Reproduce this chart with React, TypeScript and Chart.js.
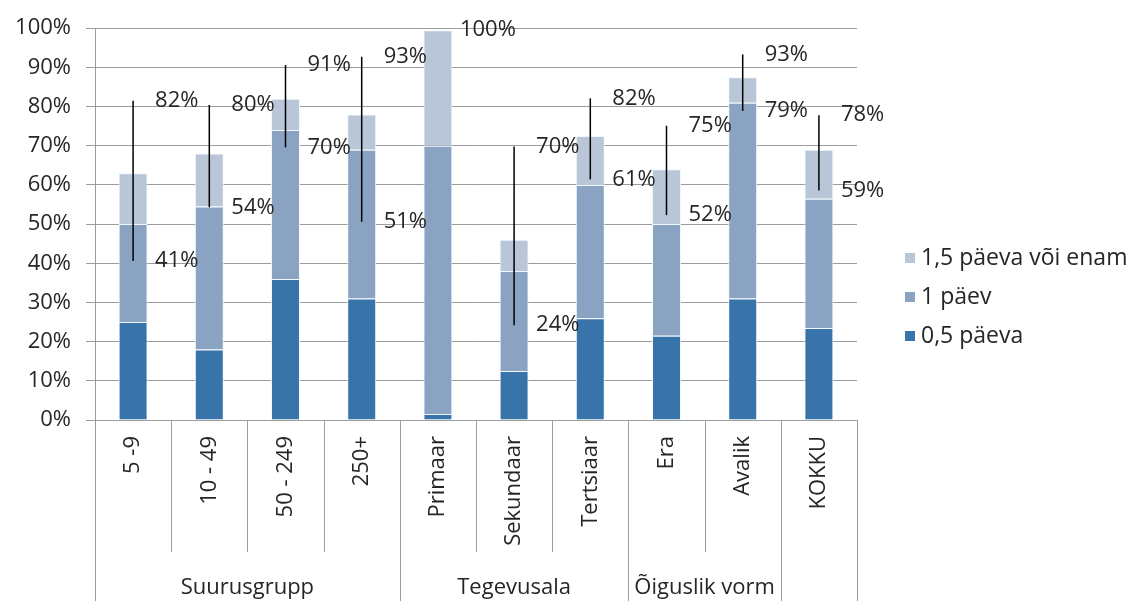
import React, { useEffect, useRef } from "react";
import { Chart, registerables } from "chart.js";

Chart.register(...registerables);

const categories = ["5 -9", "10 - 49", "50 - 249", "250+", "Primaar", "Sekundaar", "Tertsiaar", "Era", "Avalik", "KOKKU"];
const groups = [
  { label: "Suurusgrupp", start: 0, end: 4 },
  { label: "Tegevusala", start: 4, end: 7 },
  { label: "Õiguslik vorm", start: 7, end: 9 },
  { label: "", start: 9, end: 10 },
];
const halfDay = [25, 18, 36, 31, 1.5, 12.5, 26, 21.5, 31, 23.5];
const oneDay = [25, 36.5, 38, 38, 68.5, 25.5, 34, 28.5, 50, 33];
const oneHalfDay = [13, 13.5, 8, 9, 29.5, 8, 12.5, 14, 6.5, 12.5];
const errLow: (number | null)[] = [40.6, 54.3, 69.6, 50.6, null, 24.2, 61.4, 52.3, 78.9, 58.6];
const errHigh: (number | null)[] = [81.5, 80.4, 90.6, 92.7, 99.6, 69.8, 82.1, 75.1, 93.3, 77.8];
const seriesLabels = ["0,5 päeva", "1 päev", "1,5 päeva või enam"];
const seriesColors = ["#3873A9", "#8BA3C2", "#B9C6D7"];

const FONT = "'Open Sans', sans-serif";
const TEXT = "#262626";
const GRID = "#9c9c9c";

const overlayPlugin = {
  id: "overlay",
  afterDatasetsDraw(chart: any) {
    const ctx = chart.ctx;
    const x = chart.scales.x;
    const y = chart.scales.y;
    const area = chart.chartArea;
    ctx.save();
    // error bars + labels
    ctx.font = `22px ${FONT}`;
    ctx.fillStyle = TEXT;
    ctx.textAlign = "left";
    ctx.textBaseline = "middle";
    for (let i = 0; i < categories.length; i++) {
      const px = x.getPixelForValue(i);
      const lo = errLow[i];
      const hi = errHigh[i];
      if (lo != null && hi != null) {
        ctx.strokeStyle = "#000";
        ctx.lineWidth = 1.5;
        ctx.beginPath();
        ctx.moveTo(px, y.getPixelForValue(hi));
        ctx.lineTo(px, y.getPixelForValue(lo));
        ctx.stroke();
      }
      if (hi != null) ctx.fillText(Math.round(hi) + "%", px + 22, y.getPixelForValue(hi));
      if (lo != null) ctx.fillText(Math.round(lo) + "%", px + 22, y.getPixelForValue(lo));
    }
    // multi-level x axis
    const n = categories.length;
    const w = (area.right - area.left) / n;
    const groupEdges = new Set<number>();
    groups.forEach((g) => { groupEdges.add(g.start); groupEdges.add(g.end); });
    ctx.strokeStyle = GRID;
    ctx.lineWidth = 1;
    for (let i = 0; i <= n; i++) {
      const lx = Math.round(area.left + i * w) + 0.5;
      ctx.beginPath();
      ctx.moveTo(lx, area.bottom);
      ctx.lineTo(lx, groupEdges.has(i) ? chart.height : area.bottom + 132);
      ctx.stroke();
    }
    ctx.fillStyle = TEXT;
    ctx.font = `22px ${FONT}`;
    for (let i = 0; i < n; i++) {
      const cx = x.getPixelForValue(i);
      ctx.save();
      ctx.translate(cx, area.bottom + 16);
      ctx.rotate(-Math.PI / 2);
      ctx.textAlign = "right";
      ctx.textBaseline = "middle";
      ctx.fillText(categories[i], 0, 0);
      ctx.restore();
    }
    ctx.textAlign = "center";
    ctx.textBaseline = "middle";
    groups.forEach((g) => {
      if (!g.label) return;
      const gx = area.left + ((g.start + g.end) / 2) * w;
      ctx.fillText(g.label, gx, area.bottom + 168);
    });
    // legend
    const ds = chart.data.datasets;
    ctx.textAlign = "left";
    ctx.font = `23px ${FONT}`;
    for (let k = 0; k < ds.length; k++) {
      const d = ds[ds.length - 1 - k];
      const cy = 258 + k * 39;
      ctx.fillStyle = d.backgroundColor;
      ctx.fillRect(905, cy - 5, 10, 10);
      ctx.fillStyle = TEXT;
      ctx.fillText(d.label, 921, cy);
    }
    ctx.restore();
  },
};

export default function App() {
  const ref = useRef<HTMLCanvasElement>(null);
  useEffect(() => {
    if (!ref.current) return;
    const datasets = [halfDay, oneDay, oneHalfDay].map((data, i) => ({
      label: seriesLabels[i],
      data,
      backgroundColor: seriesColors[i],
      borderColor: "rgba(240,248,255,1)",
      borderWidth: 1,
      barPercentage: 0.38,
      categoryPercentage: 1,
    }));
    const chart = new Chart(ref.current, {
      type: "bar",
      data: { labels: categories, datasets },
      options: {
        animation: false,
        responsive: true,
        maintainAspectRatio: false,
        layout: { padding: { top: 23, right: 280, bottom: 181, left: 0 } },
        plugins: { legend: { display: false }, tooltip: { enabled: false } },
        scales: {
          x: { stacked: true, display: false },
          y: {
            stacked: true,
            min: 0,
            max: 100,
            afterFit: (s: any) => { s.width = 95; },
            ticks: {
              stepSize: 10,
              callback: (v: any) => v + "%",
              color: TEXT,
              font: { family: FONT, size: 22 },
              padding: 15,
            },
            grid: { color: GRID, tickLength: 9, lineWidth: 1 },
            border: { color: GRID },
          },
        },
      },
      plugins: [overlayPlugin],
    });
    return () => chart.destroy();
  }, []);
  return (
    <div style={{ position: "absolute", left: 0, top: 0, width: 1137, height: 601, background: "#fff" }}>
      <canvas ref={ref} />
    </div>
  );
}
